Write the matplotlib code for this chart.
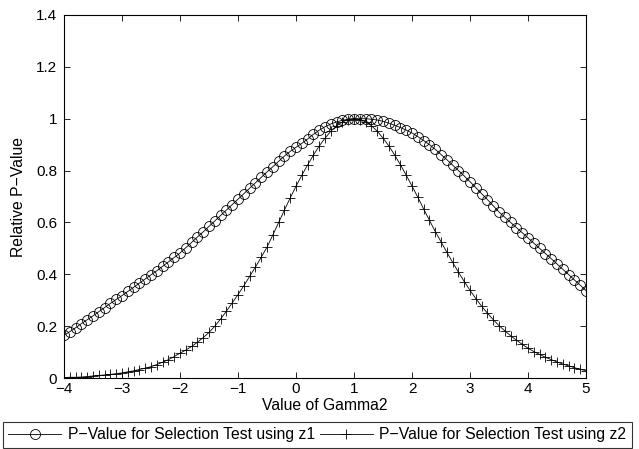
import numpy as np
import matplotlib
matplotlib.use("Agg")
import matplotlib.pyplot as plt
from matplotlib.ticker import FormatStrFormatter

plt.rcParams['font.family'] = ['Liberation Sans', 'DejaVu Sans']
plt.rcParams['axes.unicode_minus'] = True

# gamma2 grid, step 0.1 from -4 to 5
gamma2 = np.round(np.arange(-40, 51) / 10.0, 1)

# relative p-value, selection test using z1
pval_z1 = [
    0.165, 0.179, 0.194, 0.210, 0.225, 0.240, 0.256, 0.272, 0.288, 0.303,
    0.318, 0.334, 0.350, 0.366, 0.382, 0.398, 0.414, 0.431, 0.448, 0.465,
    0.482, 0.503, 0.523, 0.544, 0.564, 0.585, 0.606, 0.627, 0.648, 0.669,
    0.690, 0.711, 0.732, 0.753, 0.774, 0.795, 0.815, 0.836, 0.856, 0.874,
    0.890, 0.905, 0.922, 0.940, 0.956, 0.969, 0.980, 0.988, 0.994, 0.998,
    1.000, 1.000, 1.000, 0.998, 0.995, 0.990, 0.983, 0.975, 0.966, 0.956,
    0.945, 0.931, 0.916, 0.900, 0.882, 0.862, 0.842, 0.821, 0.800, 0.779,
    0.757, 0.734, 0.711, 0.688, 0.664, 0.640, 0.620, 0.600, 0.580, 0.560,
    0.540, 0.520, 0.500, 0.480, 0.460, 0.440, 0.419, 0.399, 0.378, 0.358,
    0.337,
]

# relative p-value, selection test using z2
pval_z2 = [
    0.002, 0.003, 0.003, 0.004, 0.006, 0.008, 0.010, 0.012, 0.014, 0.017,
    0.020, 0.024, 0.028, 0.033, 0.038, 0.044, 0.052, 0.061, 0.071, 0.083,
    0.096, 0.108, 0.122, 0.138, 0.156, 0.176, 0.200, 0.228, 0.258, 0.290,
    0.322, 0.356, 0.392, 0.428, 0.466, 0.505, 0.552, 0.600, 0.648, 0.695,
    0.740, 0.782, 0.822, 0.860, 0.895, 0.925, 0.952, 0.973, 0.988, 0.997,
    1.000, 0.997, 0.988, 0.973, 0.952, 0.925, 0.895, 0.860, 0.822, 0.782,
    0.740, 0.697, 0.652, 0.608, 0.565, 0.525, 0.485, 0.446, 0.408, 0.372,
    0.338, 0.306, 0.277, 0.250, 0.225, 0.202, 0.182, 0.163, 0.146, 0.130,
    0.115, 0.102, 0.091, 0.080, 0.071, 0.062, 0.054, 0.047, 0.040, 0.034,
    0.028,
]

xticks = [-4, -3, -2, -1, 0, 1, 2, 3, 4, 5]
yticks = [0, 0.2, 0.4, 0.6, 0.8, 1.0, 1.2, 1.4]

fs = 11.3

fig = plt.figure(figsize=(6.39, 4.49), dpi=100)
ax = fig.add_axes([0.1002, 0.158, 0.817, 0.8086])

ax.plot(gamma2, pval_z1, '-o', color='black', lw=0.6, ms=7.2,
        mfc='none', mew=0.6, label='P\u2212Value for Selection Test using z1')
ax.plot(gamma2, pval_z2, '-+', color='black', lw=0.6, ms=7,
        mew=0.6, label='P\u2212Value for Selection Test using z2')

ax.set_xlim(-4, 5)
ax.set_ylim(0, 1.4)
ax.set_xticks(xticks)
ax.set_yticks(yticks)
ax.yaxis.set_major_formatter(FormatStrFormatter('%g'))
ax.tick_params(direction='in', length=4, width=0.6, top=True, right=True,
               labelsize=11)
ax.tick_params(axis='x', pad=3)
ax.tick_params(axis='y', pad=5)
for s in ax.spines.values():
    s.set_linewidth(0.8)

ax.set_xlabel('Value of Gamma2', fontsize=fs, labelpad=1)
ax.set_ylabel('Relative P\u2212Value', fontsize=fs, labelpad=7)

# legend strip along the bottom, running off the right edge
leg = fig.legend(loc='lower left', bbox_to_anchor=(0.004, 0.003), ncol=2,
                 fontsize=fs, frameon=True, fancybox=False, handlelength=3.4,
                 handletextpad=0.4, columnspacing=0.3, borderpad=0.35,
                 borderaxespad=0)
leg.get_frame().set_edgecolor('black')
leg.get_frame().set_linewidth(0.8)

fig.savefig('out.png', dpi=100)
